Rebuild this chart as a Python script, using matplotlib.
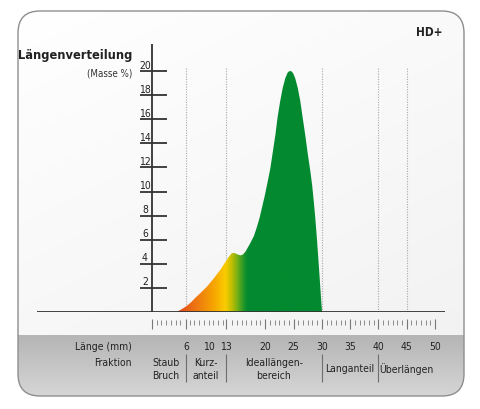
import matplotlib
matplotlib.use('Agg')
import matplotlib.pyplot as plt
import numpy as np
from matplotlib.patches import FancyBboxPatch
from matplotlib.colors import LinearSegmentedColormap

plt.rcParams['font.family'] = ['DejaVu Sans']
plt.rcParams['font.stretch'] = 'condensed'

#### DATA ####

# distribution curve (Laenge in mm, Masse %)
laenge = [4.37, 5.3, 6.14, 7.0, 7.6, 8.5, 9.7, 10.85, 12.0, 12.9, 13.6, 14.1,
          14.6, 15.0, 15.6, 16.0, 16.5, 17.35, 18.0, 18.5, 19.0, 19.4, 19.9,
          20.3, 20.9, 21.35, 21.8, 22.2, 22.65, 23.1, 23.55, 23.95, 24.2,
          24.45, 24.7, 24.95, 25.3, 25.75, 26.2, 26.6, 27.1, 27.5, 28.0,
          28.3, 28.6, 28.85, 29.15, 29.45, 29.7, 29.9, 30.05]
masse = [0.0, 0.25, 0.5, 0.85, 1.15, 1.55, 2.1, 2.75, 3.45, 4.1, 4.6, 4.88,
         4.9, 4.8, 4.7, 4.75, 5.0, 5.7, 6.3, 7.0, 7.8, 8.6, 9.6,
         10.5, 11.9, 13.3, 14.7, 16.2, 17.5, 18.6, 19.4, 19.85, 19.97,
         20.0, 19.95, 19.8, 19.4, 18.6, 17.5, 16.2, 14.6, 13.2, 11.6,
         10.5, 9.1, 7.8, 6.0, 4.0, 2.3, 0.9, 0.0]

yticks = [2, 4, 6, 8, 10, 12, 14, 16, 18, 20]
xlabels = [6, 10, 13, 20, 25, 30, 35, 40, 45, 50]
xmajor = [0, 6, 13, 20, 25, 30, 35, 40, 45, 50]
grenzen = [6, 13, 30, 40, 45]           # dotted lines
trenner = [6, 13, 30, 40]               # separators in the Fraktion row
fraktionen = ['Staub\nBruch', 'Kurz-\nanteil', 'Ideallängen-\nbereich',
              'Langanteil', 'Überlängen']
fraktion_x = [2.5, 9.5, 21.5, 35, 45]

# colours along the curve (mm, colour)
farbstops = [(4.4, '#e2471c'), (8.0, '#ee7a10'), (11.0, '#f6a800'),
             (12.9, '#fbcd00'), (14.0, '#c2be00'), (15.0, '#78b214'),
             (16.0, '#2b9a28'), (16.8, '#038a30'), (31.0, '#038a30')]

#### FIGURE ####

W, H = 480, 410
fig = plt.figure(figsize=(W/100, H/100), dpi=100)

# background in pixel coordinates
bg = fig.add_axes([0, 0, 1, 1])
bg.set_xlim(0, W)
bg.set_ylim(H, 0)
bg.axis('off')

px0, px1, py0, py1 = 18, 464, 12, 397
band_top = 336
panel = FancyBboxPatch((px0, py0), px1-px0, py1-py0,
                       boxstyle='round,pad=0,rounding_size=22',
                       fc='none', ec='#8e8e8e', lw=1.0, zorder=3)
bg.add_patch(panel)

yy, xx = np.mgrid[py0:py1, px0:px1]
img = np.ones((py1-py0, px1-px0, 3))
light = 1.0 - 0.05 * ((xx - px0) / (px1 - px0) * 0.4 + (yy - py0) / (band_top - py0) * 0.6)
gray = 0.71 + 0.13 * (yy - band_top) / (py1 - band_top)
val = np.where(yy < band_top, light, gray)
img[...] = val[..., None]
im_bg = bg.imshow(img, extent=[px0, px1, py1, py0], aspect='auto', zorder=1,
                  interpolation='bilinear')
clip = FancyBboxPatch((px0, py0), px1-px0, py1-py0,
                      boxstyle='round,pad=0,rounding_size=22',
                      transform=bg.transData)
im_bg.set_clip_path(clip)

bg.text(132, 55, 'Längenverteilung', ha='right', va='center',
        fontsize=9.2, fontweight='bold', color='#222222')
bg.text(132, 73, '(Masse %)', ha='right', va='center', fontsize=7,
        color='#333333')
bg.text(429, 33, 'HD+', ha='center', va='center', fontsize=8.5,
        fontweight='bold', color='#222222')

# data axes: x 0..50 mm -> px 152..435, y 0..20 % -> px 313..72
ppm = (435 - 152) / 50
ppu = (313 - 72) / 20
left_px, right_px, top_px, base_px = 37, 445, 45, 313
ax = fig.add_axes([left_px/W, (H-base_px)/H, (right_px-left_px)/W, (base_px-top_px)/H])
ax.patch.set_alpha(0)
for s in ax.spines.values():
    s.set_visible(False)
ax.set_xticks([])
ax.set_yticks([])

def py2y(p):
    # pixel row below the baseline -> data y
    return -(p - base_px) / ppu

# dotted borders between fractions
ax.vlines(grenzen, 0, py2y(68), colors='#a8a8a8', linestyles=(0, (1, 1.3)),
          lw=0.8, zorder=2)

# curve with colour gradient
fill = ax.fill_between(laenge, masse, 0, color='none', lw=0)
pos = [(m - farbstops[0][0]) / (farbstops[-1][0] - farbstops[0][0]) for m, c in farbstops]
cmap = LinearSegmentedColormap.from_list('laenge', list(zip(pos, [c for m, c in farbstops])))
grad = np.linspace(0, 1, 400)[None, :]
im = ax.imshow(grad, cmap=cmap, aspect='auto', zorder=3,
               extent=[farbstops[0][0], farbstops[-1][0], 0, 20.5],
               interpolation='bilinear')
im.set_clip_path(fill.get_paths()[0], transform=ax.transData)
ax.set_xlim(-(152-left_px)/ppm, (right_px-152)/ppm)
ax.set_ylim(0, (base_px-top_px)/ppu)

# axes lines
ax.axhline(0, color='#333333', lw=1.3, zorder=5)
ax.axvline(0, color='#333333', lw=1.3, zorder=5)
ax.hlines(yticks, -12/ppm, 15/ppm, colors='#333333', lw=1.3, zorder=5)
for v in yticks:
    ax.text(-7/ppm, v + 0.12, str(v), ha='center', va='bottom', fontsize=7.5,
            color='#222222')

# x scale below the baseline
minor = [m for m in np.linspace(0, 50, 61) if min(abs(m - np.array(xmajor))) > 0.4]
ax.vlines(minor, py2y(321), py2y(326), colors='#8a8a8a', lw=0.7, clip_on=False)
ax.vlines(xmajor, py2y(320), py2y(330), colors='#777777', lw=0.8, clip_on=False)
for v in xlabels:
    ax.text(v, py2y(347), str(v), ha='center', va='center', fontsize=7.5,
            color='#222222', clip_on=False)
ax.text(-20/ppm, py2y(347), 'Länge (mm)', ha='right', va='center',
        fontsize=7.5, color='#222222')
ax.text(-20/ppm, py2y(363), 'Fraktion', ha='right', va='center',
        fontsize=7.5, color='#222222')

ax.vlines(trenner, py2y(355), py2y(383), colors='#6e6e6e', lw=0.8, clip_on=False)
for name, x in zip(fraktionen, fraktion_x):
    ax.text(x, py2y(369.5), name, ha='center', va='center', fontsize=7.5,
            color='#222222', linespacing=1.4, clip_on=False)

fig.savefig('out.png', dpi=100)
